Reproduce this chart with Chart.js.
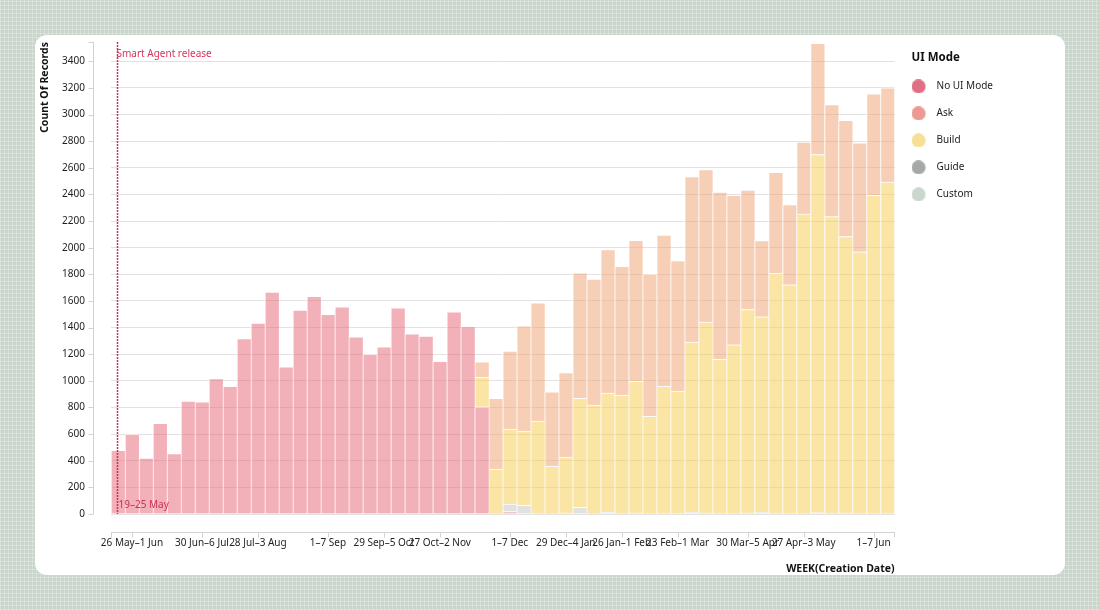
<!DOCTYPE html>
<html>
<head>
<meta charset="utf-8">
<title>UI Mode by week</title>
<script src="https://cdn.jsdelivr.net/npm/chart.js@4.4.1/dist/chart.umd.min.js"></script>
<style>
    html, body { margin: 0; padding: 0; }
    body {
        width: 1100px; height: 610px; position: relative; overflow: hidden;
        background-color: #c8d5ca;
        background-image:
            repeating-linear-gradient(0deg, rgba(255,255,255,0.25) 0 1px, transparent 1px 4px),
            repeating-linear-gradient(90deg, rgba(255,255,255,0.25) 0 1px, transparent 1px 4px);
        font-family: "Noto Sans", sans-serif;
    }
    .card { position: absolute; left: 35px; top: 35px; width: 1030px; height: 540px; background: #fff; border-radius: 12px; }
    .card canvas { position: absolute; left: 0; top: 0; }
</style>
</head>
<body>
<div class="card"><canvas id="chart" width="1030" height="540"></canvas></div>
<script>
// Tuần (thứ 2 -> CN)
const weeks = [
    '19–25 May', '26 May–1 Jun', '2–8 Jun', '9–15 Jun', '16–22 Jun', '23–29 Jun', '30 Jun–6 Jul',
    '7–13 Jul', '14–20 Jul', '21–27 Jul', '28 Jul–3 Aug', '4–10 Aug', '11–17 Aug', '18–24 Aug',
    '25–31 Aug', '1–7 Sep', '8–14 Sep', '15–21 Sep', '22–28 Sep', '29 Sep–5 Oct', '6–12 Oct',
    '13–19 Oct', '20–26 Oct', '27 Oct–2 Nov', '3–9 Nov', '10–16 Nov', '17–23 Nov', '24–30 Nov',
    '1–7 Dec', '8–14 Dec', '15–21 Dec', '22–28 Dec', '29 Dec–4 Jan', '5–11 Jan', '12–18 Jan',
    '19–25 Jan', '26 Jan–1 Feb', '2–8 Feb', '9–15 Feb', '16–22 Feb', '23 Feb–1 Mar', '2–8 Mar',
    '9–15 Mar', '16–22 Mar', '23–29 Mar', '30 Mar–5 Apr', '6–12 Apr', '13–19 Apr', '20–26 Apr',
    '27 Apr–3 May', '4–10 May', '11–17 May', '18–24 May', '25–31 May', '1–7 Jun', '8–14 Jun'
];
// tuần có nhãn trên trục X (index trong weeks)
const tickWeeks = [1, 6, 10, 15, 19, 23, 28, 32, 36, 40, 45, 49, 54];

const noUiMode = [
    478, 600, 420, 681, 453, 848, 843, 1018, 958, 1318, 1433, 1666, 1106, 1531,
    1634, 1499, 1556, 1331, 1201, 1256, 1548, 1353, 1336, 1146, 1519, 1409, 805, null,
    18, null, null, null, null, null, null, null, null, null, null, null, null, null,
    null, null, null, null, null, null, null, null, null, null, null, null, null, null
];
const guide = [
    null, null, null, null, null, null, null, null, null, null, null, null, null, null,
    null, null, null, null, null, null, null, null, null, null, null, null, null, null,
    57, 65, null, null, null, 50, null, 15, null, null, null, null, null, 12,
    null, null, null, null, 12, null, null, null, 10, null, null, null, null, null
];
const custom = [
    null, null, null, null, null, null, null, null, null, null, null, null, null, null,
    null, null, null, null, null, null, null, null, null, null, null, null, null, 5,
    null, null, 6, 5, 8, null, 5, null, 6, 8, 5, 6, 4, null,
    8, 6, 6, 8, null, 6, 6, 6, null, 6, 8, 6, 6, 6
];
const build = [
    null, null, null, null, null, null, null, null, null, null, null, null, null, null,
    null, null, null, null, null, null, null, null, null, null, null, null, 221, 333,
    563, 558, 692, 353, 420, 818, 813, 893, 887, 988, 728, 952, 919, 1279,
    1433, 1155, 1265, 1528, 1469, 1800, 1715, 2248, 2690, 2228, 2076, 1963, 2388, 2486
];
const ask = [
    null, null, null, null, null, null, null, null, null, null, null, null, null, null,
    null, null, null, null, null, null, null, null, null, null, null, null, 117, 530,
    585, 790, 888, 560, 635, 943, 946, 1078, 968, 1060, 1071, 1136, 981, 1244,
    1146, 1256, 1123, 896, 573, 761, 603, 540, 835, 841, 873, 818, 761, 708
];

const yMax = 3545;
const releaseWeek = 0;
const releaseLabel = 'Smart Agent release';
const legendTitle = 'UI Mode';
const legendOrder = ['No UI Mode', 'Ask', 'Build', 'Guide', 'Custom'];
const FONT = '"Noto Sans", sans-serif';

// chấm tròn cho legend (có hoa văn như bản gốc)
function makeDot(base, dots) {
    var c = document.createElement('canvas');
    c.width = 20; c.height = 14;
    var g = c.getContext('2d');
    g.beginPath();
    g.arc(7, 7, 7, 0, Math.PI * 2);
    g.clip();
    g.fillStyle = base;
    g.fillRect(0, 0, 20, 14);
    if (dots) {
        g.fillStyle = dots;
        for (var yy = 0; yy < 14; yy++)
            for (var xx = yy % 2; xx < 14; xx += 2)
                g.fillRect(xx, yy, 1, 1);
    }
    return c;
}
const legendDots = {
    'No UI Mode': makeDot('#ee9fac', '#d6405c'),
    'Ask': makeDot('#f6c3a6', '#e2707f'),
    'Build': makeDot('#f8df96', null),
    'Guide': makeDot('#a5a8a6', null),
    'Custom': makeDot('#c9d7cd', null)
};

// trục kiểu Vega: đường trục tách khỏi vùng vẽ
const axisDecor = {
    id: 'axisDecor',
    afterDraw(chart) {
        const {ctx, chartArea, scales: {x, y}} = chart;
        ctx.save();
        ctx.strokeStyle = '#d2d2d2';
        ctx.lineWidth = 1;
        ctx.beginPath();
        const xy = Math.round(chartArea.bottom + 18) + 0.5;
        ctx.moveTo(chartArea.left, xy);
        ctx.lineTo(chartArea.right, xy);
        [chartArea.left, chartArea.right - 1].concat(tickWeeks.map(i => x.getPixelForValue(i))).forEach(function (px) {
            px = Math.round(px) + 0.5;
            ctx.moveTo(px, xy);
            ctx.lineTo(px, xy + 5);
        });
        const yx = Math.round(chartArea.left - 18) + 0.5;
        ctx.moveTo(yx, chartArea.top);
        ctx.lineTo(yx, chartArea.bottom);
        y.ticks.forEach(function (t) {
            const py = Math.round(y.getPixelForValue(t.value)) + 0.5;
            ctx.moveTo(yx - 5, py);
            ctx.lineTo(yx, py);
        });
        ctx.moveTo(yx - 5, chartArea.top + 0.5);
        ctx.lineTo(yx, chartArea.top + 0.5);
        ctx.stroke();

        // tiêu đề legend, canh theo cột chấm tròn
        const lg = chart.legend;
        ctx.fillStyle = '#111';
        ctx.font = 'bold 11.5px ' + FONT;
        ctx.textAlign = 'left';
        ctx.textBaseline = 'middle';
        ctx.fillText(legendTitle, lg.left + 17, lg.top + 15.5);
        ctx.restore();
    }
};

// vạch mốc "Smart Agent release"
const releaseMarker = {
    id: 'releaseMarker',
    afterDatasetsDraw(chart) {
        const {ctx, chartArea, scales: {x}} = chart;
        const px = Math.round(x.getPixelForValue(releaseWeek)) - 0.5;
        ctx.save();
        ctx.strokeStyle = '#d22d55';
        ctx.lineWidth = 1.5;
        ctx.setLineDash([2, 1]);
        ctx.beginPath();
        ctx.moveTo(px, chartArea.top);
        ctx.lineTo(px, chartArea.bottom);
        ctx.stroke();
        ctx.fillStyle = '#d6335a';
        ctx.font = '10px ' + FONT;
        ctx.textAlign = 'left';
        ctx.textBaseline = 'middle';
        ctx.fillText(releaseLabel, px - 1, chartArea.top + 12);
        ctx.fillStyle = '#cc3057';
        ctx.fillText(weeks[releaseWeek], px + 1, chartArea.bottom - 9);
        ctx.restore();
    }
};

function series(label, data, color) {
    return {label: label, data: data, backgroundColor: color};
}

new Chart(document.getElementById('chart'), {
    type: 'bar',
    data: {
        labels: weeks,
        // thứ tự xếp chồng từ dưới lên
        datasets: [
            series('No UI Mode', noUiMode, 'rgba(229, 99, 115, 0.5)'),
            series('Guide', guide, 'rgba(196, 196, 196, 0.5)'),
            series('Custom', custom, 'rgba(160, 188, 168, 0.5)'),
            series('Build', build, 'rgba(247, 203, 73, 0.5)'),
            series('Ask', ask, 'rgba(239, 159, 109, 0.5)')
        ]
    },
    options: {
        responsive: false,
        animation: false,
        layout: {padding: {top: 7, right: 62, bottom: 0, left: 0}},
        datasets: {
            bar: {
                barPercentage: 1,
                categoryPercentage: 1,
                borderColor: 'rgba(255, 255, 255, 0.75)',
                borderWidth: {left: 1, top: 1, right: 0, bottom: 0},
                borderSkipped: false
            }
        },
        scales: {
            x: {
                stacked: true,
                grid: {display: false},
                border: {display: false},
                ticks: {
                    autoSkip: false, maxRotation: 0, minRotation: 0, padding: 15,
                    color: '#222', font: {family: FONT, size: 10},
                    callback: function (v, i) {
                        return tickWeeks.indexOf(i) > -1 ? weeks[i] : '';
                    }
                },
                title: {
                    display: true, text: 'WEEK(Creation Date)', align: 'end', color: '#111',
                    font: {family: FONT, size: 10.5, weight: 'bold'}, padding: {top: 0, bottom: 0}
                },
                afterFit: function (s) { s.height = 61; }
            },
            y: {
                stacked: true,
                min: 0,
                max: yMax,
                grid: {color: '#e2e2e2', drawTicks: true, tickLength: 26, tickColor: 'rgba(0,0,0,0)'},
                border: {display: false},
                ticks: {
                    stepSize: 200, padding: 0, color: '#222', font: {family: FONT, size: 10},
                    callback: function (v) { return String(v); }
                },
                afterBuildTicks: function (s) {
                    s.ticks = s.ticks.filter(t => t.value % 200 === 0);
                },
                title: {
                    display: true, text: 'Count Of Records', align: 'end', color: '#111',
                    font: {family: FONT, size: 10.5, weight: 'bold'}
                },
                afterFit: function (s) { s.width = 76; }
            }
        },
        plugins: {
            legend: {
                position: 'right',
                align: 'start',
                // chỉ giữ chỗ cho tiêu đề; chữ "UI Mode" vẽ trong axisDecor
                title: {
                    display: true, text: ' ', position: 'start',
                    font: {family: FONT, size: 12, weight: 'bold'}, padding: {top: 7, bottom: 1}
                },
                labels: {
                    usePointStyle: true,
                    pointStyleWidth: 20,
                    padding: 17,
                    color: '#222',
                    font: {family: FONT, size: 10},
                    generateLabels: function (chart) {
                        var items = Chart.defaults.plugins.legend.labels.generateLabels(chart);
                        items.forEach(function (it) { it.pointStyle = legendDots[it.text]; });
                        return items;
                    },
                    sort: function (a, b) {
                        return legendOrder.indexOf(a.text) - legendOrder.indexOf(b.text);
                    }
                }
            },
            tooltip: {enabled: false}
        }
    },
    plugins: [axisDecor, releaseMarker]
});
</script>
</body>
</html>
